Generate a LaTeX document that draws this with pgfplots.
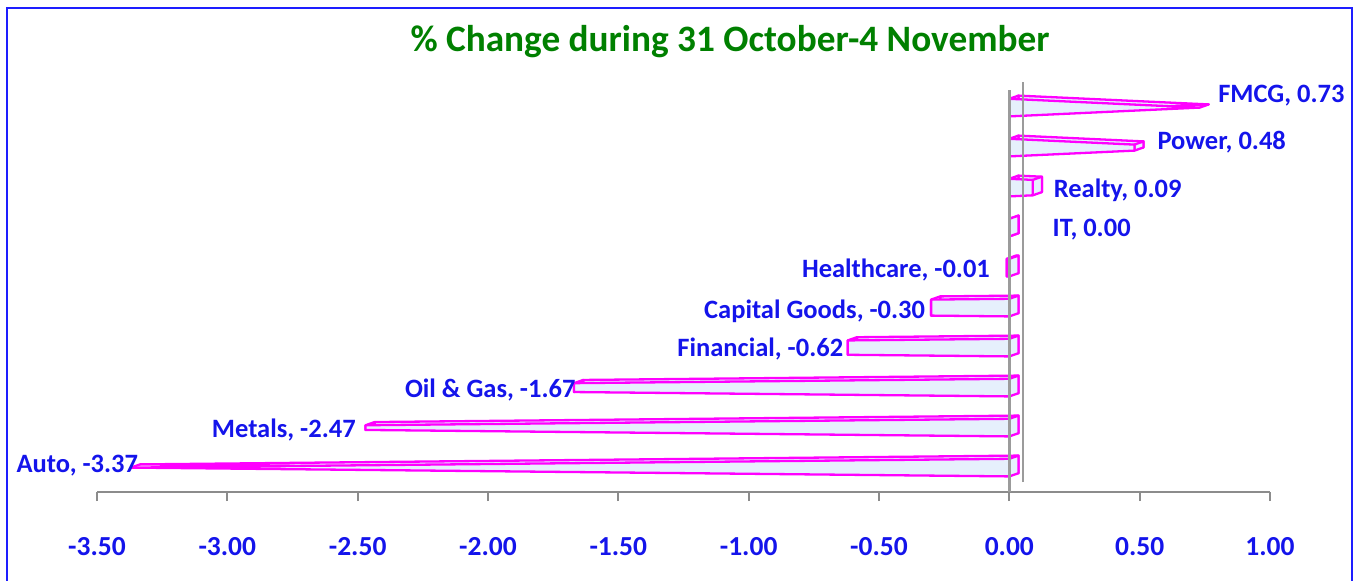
\documentclass[border=0pt]{standalone}
\usepackage{pgfplots}
\pgfplotsset{compat=1.18}
\usepackage{fontspec}
\setmainfont{Carlito}
\definecolor{titlegreen}{RGB}{0,128,0}
\definecolor{lblblue}{RGB}{20,20,235}
\definecolor{barmag}{RGB}{255,0,255}
\definecolor{barfill}{RGB}{230,240,252}
\definecolor{axgray}{RGB}{140,140,140}
\definecolor{wallgray}{RGB}{155,155,155}
\definecolor{frameblue}{RGB}{30,30,255}
\begin{document}
\begin{tikzpicture}
\useasboundingbox (0,0) rectangle (677.5bp,290.5bp);
\draw[frameblue, line width=1.4bp] (3.5bp,-5bp) -- (3.5bp,286.5bp) -- (676bp,286.5bp) -- (676bp,-5bp);
\node[font=\bfseries\fontsize{18.7}{22}\selectfont, text=titlegreen] at (365bp,269.5bp) {\% Change during 31 October-4 November};
\begin{axis}[
  at={(48.5bp,44.5bp)}, anchor=south west,
  scale only axis, width=586.5bp, height=206bp,
  xmin=-3.5, xmax=1.0, ymin=-0.65, ymax=9.65,
  clip=false,
  axis y line=none,
  axis x line*=bottom,
  x axis line style={axgray, line width=1bp},
  xtick={-3.5,-3,-2.5,-2,-1.5,-1,-0.5,0,0.5,1},
  tick align=outside,
  major tick length=4.5bp,
  x tick style={axgray, line width=1bp},
  xticklabel style={font=\bfseries\fontsize{13.8}{16}\selectfont, text=lblblue, anchor=base, yshift=-27bp},
  /pgf/number format/.cd, fixed, fixed zerofill, precision=2, assume math mode=true,
  /pgfplots/.cd,
  barsty/.style={draw=barmag, fill=barfill, line width=1.15bp, line join=round, mark=none},
]
% bars: index / value
\foreach \i/\v in {0/-3.37, 1/-2.47, 2/-1.67, 3/-0.62, 4/-0.30, 5/-0.01, 6/0.00, 7/0.09, 8/0.48, 9/0.73}{
  \pgfmathsetmacro\r{\v<0 ? 1-abs(\v)/3.37 : 1-\v/0.73}
  \pgfmathsetmacro\fl{\i-0.04-0.22}
  \pgfmathsetmacro\fh{\i-0.04+0.22}
  \pgfmathsetmacro\tl{\i-0.04-0.22*\r}
  \pgfmathsetmacro\th{\i-0.04+0.22*\r}
  \pgfmathsetmacro\bl{\fl+0.08}
  \pgfmathsetmacro\bh{\fh+0.08}
  \pgfmathsetmacro\btl{\tl+0.08}
  \pgfmathsetmacro\bth{\th+0.08}
  \pgfmathsetmacro\vb{\v+0.035}
  \edef\temp{%
    \noexpand\addplot[barsty] coordinates {(0.035,\bl) (\vb,\btl) (\vb,\bth) (0.035,\bh)} -- cycle;
    \noexpand\addplot[barsty] coordinates {(\v,\tl) (\vb,\btl) (\vb,\bth) (\v,\th)} -- cycle;
    \noexpand\addplot[barsty] coordinates {(0,\fl) (0.035,\bl) (0.035,\bh) (0,\fh)} -- cycle;
    \noexpand\addplot[barsty] coordinates {(0,\fl) (\v,\tl) (\v,\th) (0,\fh)} -- cycle;
  }
  \temp
}
% category axis and back wall
\addplot[wallgray, line width=1.3bp, mark=none] coordinates {(0,-0.65) (0,9.4)};
\addplot[wallgray, line width=1.3bp, mark=none] coordinates {(0.053,-0.4) (0.053,9.6)};
% data labels
\begin{scope}[every node/.style={font=\bfseries\fontsize{13.3}{16}\selectfont, text=lblblue, inner sep=0pt}]
\node[anchor=west] at (axis cs:0.80,9.27) {FMCG, 0.73};
\node[anchor=west] at (axis cs:0.567,8.1) {Power, 0.48};
\node[anchor=west] at (axis cs:0.169,6.9) {Realty, 0.09};
\node[anchor=west] at (axis cs:0.165,5.9) {IT, 0.00};
\node[anchor=east] at (axis cs:-0.073,4.9) {Healthcare, -0.01};
\node[anchor=east] at (axis cs:-0.322,3.875) {Capital Goods, -0.30};
\node[anchor=east] at (axis cs:-0.636,2.925) {Financial, -0.62};
\node[anchor=east] at (axis cs:-1.663,1.9) {Oil \& Gas, -1.67};
\node[anchor=east] at (axis cs:-2.506,0.9) {Metals, -2.47};
\node[anchor=east] at (axis cs:-3.341,0.0) {Auto, -3.37};
\end{scope}
\end{axis}
\end{tikzpicture}
\end{document}
